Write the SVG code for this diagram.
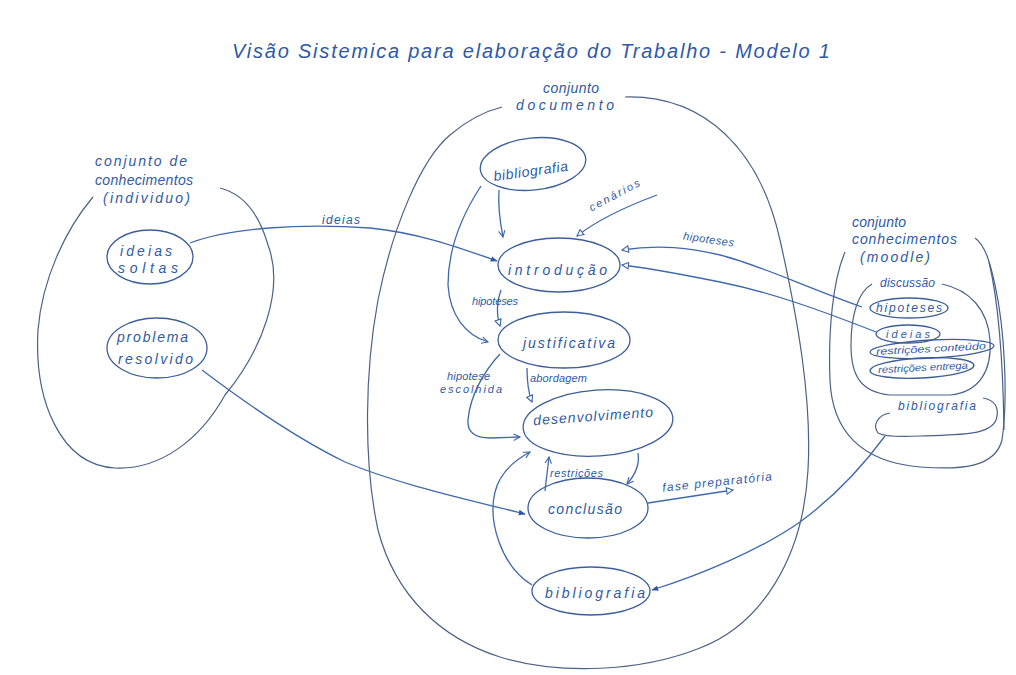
<svg xmlns="http://www.w3.org/2000/svg" width="1016" height="675" viewBox="0 0 1016 675">
<defs>
<style>
.hw{font-family:"Liberation Sans","DejaVu Sans",sans-serif;font-style:italic;fill:#2f5aa3;}
.t14{font-size:14px;}
.t12{font-size:12px;}
.t11{font-size:11px;}
.t10{font-size:10px;}
.node{fill:none;stroke:#3d5f98;stroke-width:1.3;}
.cont{fill:none;stroke:#4a6288;stroke-width:1.2;}
.edge{fill:none;stroke:#3f69ab;stroke-width:1.3;}
</style>
<marker id="af" viewBox="0 0 10 10" refX="9" refY="5" markerWidth="7" markerHeight="7" markerUnits="userSpaceOnUse" orient="auto">
<path d="M0,1 L10,5 L0,9 Z" fill="#2f5aa3"/>
</marker>
<marker id="ao" viewBox="0 0 10 10" refX="9" refY="5" markerWidth="8" markerHeight="8" markerUnits="userSpaceOnUse" orient="auto">
<path d="M1,1 L9,5 L1,9 Z" fill="#fff" stroke="#3f69ab" stroke-width="1.4"/>
</marker>
<marker id="av" viewBox="0 0 10 10" refX="9" refY="5" markerWidth="8" markerHeight="8" markerUnits="userSpaceOnUse" orient="auto">
<path d="M1,1 L9,5 L1,9" fill="none" stroke="#3f69ab" stroke-width="1.4"/>
</marker>
</defs>
<rect width="1016" height="675" fill="#ffffff"/>

<text id="title" class="hw" x="232" y="58" font-size="20" font-style="normal" textLength="598" lengthAdjust="spacing">Visão Sistemica para elaboração do Trabalho - Modelo 1</text>

<!-- containers -->
<g id="conjunto-individuo">
<path class="cont" d="M93,197 C65,230 42,280 38,330 C34,400 60,465 115,468 C160,470 200,440 225,395 C262,350 285,290 268,245 C258,210 240,193 220,188"/>
<text class="hw t14" x="95" y="166" textLength="92" lengthAdjust="spacing">conjunto de</text>
<text class="hw t14" x="95" y="185" textLength="98" lengthAdjust="spacing">conhecimentos</text>
<text class="hw t14" x="103" y="203" textLength="87" lengthAdjust="spacing">(individuo)</text>
</g>

<g id="conjunto-documento">
<path class="cont" d="M625,97 C705,95 760,150 780,240 C798,320 812,400 808,470 C803,560 760,625 700,648 C640,672 560,675 500,657 C440,638 395,595 378,530 C363,460 365,370 378,300 C392,230 420,160 450,135 C470,118 490,110 502,107"/>
<text class="hw t14" x="543" y="93" textLength="56" lengthAdjust="spacing">conjunto</text>
<text class="hw t14" x="516" y="110" textLength="98" lengthAdjust="spacing">documento</text>
</g>

<g id="conjunto-moodle">
<path class="cont" d="M845,252 C833,280 828,330 830,380 C832,430 860,462 920,467 C960,470 995,468 1002,440 C1008,400 1005,330 995,285 C990,262 985,245 975,238"/>
<path class="cont" d="M989,262 C998,300 1003,360 1004,430"/>
<text class="hw t14" x="852" y="227" textLength="54" lengthAdjust="spacing">conjunto</text>
<text class="hw t14" x="852" y="244" textLength="105" lengthAdjust="spacing">conhecimentos</text>
<text class="hw t14" x="860" y="262" textLength="70" lengthAdjust="spacing">(moodle)</text>
</g>

<g id="discussao">
<path class="cont" d="M872,284 C858,292 851,315 851,345 C851,375 860,392 890,395 L950,395 C980,392 992,370 990,340 C988,310 970,290 942,284"/>
<text class="hw t12" x="880" y="287" textLength="55" lengthAdjust="spacing">discussão</text>
</g>

<!-- nodes -->
<g id="ideias-soltas">
<ellipse class="node" cx="150" cy="257" rx="43" ry="27"/>
<text class="hw t14" x="120" y="256" textLength="52" lengthAdjust="spacing">ideias</text>
<text class="hw t14" x="118" y="273" textLength="60" lengthAdjust="spacing">soltas</text>
</g>

<g id="problema-resolvido">
<ellipse class="node" cx="157" cy="348" rx="50" ry="30"/>
<text class="hw t14" x="117" y="342" textLength="71" lengthAdjust="spacing">problema</text>
<text class="hw t14" x="118" y="364" textLength="75" lengthAdjust="spacing">resolvido</text>
</g>

<g id="bibliografia-topo">
<ellipse class="node" cx="533" cy="164" rx="53" ry="26" transform="rotate(-6 533 164)"/>
<text class="hw t14" x="493" y="176" textLength="75" lengthAdjust="spacing" transform="rotate(-8 530 170)">bibliografia</text>
</g>

<g id="introducao">
<ellipse class="node" cx="559" cy="265" rx="61" ry="27"/>
<text class="hw t14" x="508" y="275" textLength="99" lengthAdjust="spacing">introdução</text>
</g>

<g id="justificativa">
<ellipse class="node" cx="564" cy="340" rx="66" ry="28"/>
<text class="hw t14" x="523" y="348" textLength="92" lengthAdjust="spacing">justificativa</text>
</g>

<g id="desenvolvimento">
<ellipse class="node" cx="598" cy="423" rx="75" ry="33" transform="rotate(-4 598 423)"/>
<text class="hw t14" x="533" y="421" textLength="120" lengthAdjust="spacing" transform="rotate(-4 593 415)">desenvolvimento</text>
</g>

<g id="conclusao">
<ellipse class="node" cx="588" cy="508" rx="60" ry="30"/>
<text class="hw t14" x="548" y="514" textLength="74" lengthAdjust="spacing">conclusão</text>
</g>

<g id="bibliografia-base">
<ellipse class="node" cx="591" cy="591" rx="59" ry="24"/>
<text class="hw t14" x="545" y="598" textLength="100" lengthAdjust="spacing">bibliografia</text>
</g>

<g id="hipoteses-moodle">
<ellipse class="node" cx="909" cy="308" rx="39" ry="10"/>
<text class="hw t12" x="876" y="312" textLength="66" lengthAdjust="spacing">hipoteses</text>
</g>

<g id="ideias-moodle">
<ellipse class="node" cx="908" cy="334" rx="32" ry="9"/>
<text class="hw t11" x="886" y="338" textLength="44" lengthAdjust="spacing">ideias</text>
</g>

<g id="restricoes-conteudo">
<ellipse class="node" cx="932" cy="349" rx="62" ry="9" transform="rotate(-3 932 349)"/>
<text class="hw t10" x="876" y="352" textLength="110" lengthAdjust="spacingAndGlyphs" transform="rotate(-3 932 349)">restrições conteúdo</text>
</g>

<g id="restricoes-entrega">
<ellipse class="node" cx="922" cy="368" rx="52" ry="10" transform="rotate(-3 922 368)"/>
<text class="hw t10" x="878" y="371" textLength="90" lengthAdjust="spacingAndGlyphs" transform="rotate(-3 922 368)">restrições entrega</text>
</g>

<g id="bibliografia-moodle">
<path class="cont" d="M890,413 C878,415 872,425 878,433 C885,437 900,437 920,436 C960,435 990,435 996,420 C1000,408 995,400 983,398"/>
<text class="hw t12" x="898" y="410" textLength="78" lengthAdjust="spacing">bibliografia</text>
</g>

<!-- connectors -->
<g id="connectors">
<path class="edge" d="M190,243 C230,228 300,223 370,228 C420,233 460,248 497,261" marker-end="url(#af)"/>
<path class="edge" d="M202,370 C235,395 290,435 345,462 C400,485 470,500 525,514" marker-end="url(#af)"/>
<path class="edge" d="M499,190 C498,205 500,222 503,237" marker-end="url(#av)"/>
<path class="edge" d="M481,186 C462,215 448,250 448,285 C450,315 465,335 488,342" marker-end="url(#av)"/>
<path class="edge" d="M657,195 C630,205 600,218 577,236" marker-end="url(#ao)"/>
<path class="edge" d="M862,307 C800,285 760,265 720,255 C690,248 660,244 622,250" marker-end="url(#ao)"/>
<path class="edge" d="M876,332 C820,310 770,292 720,282 C680,274 650,268 622,265" marker-end="url(#ao)"/>
<path class="edge" d="M501,290 C497,300 496,314 500,326" marker-end="url(#ao)"/>
<path class="edge" d="M500,354 C485,370 470,395 468,420 C467,432 475,438 490,438 L520,437" marker-end="url(#av)"/>
<path class="edge" d="M527,368 C527,380 528,392 532,402" marker-end="url(#ao)"/>
<path class="edge" d="M638,453 C640,465 635,475 627,484" marker-end="url(#av)"/>
<path class="edge" d="M545,491 L549,457" marker-end="url(#av)"/>
<path class="edge" d="M532,585 C500,565 488,520 495,492 C500,472 515,460 530,452" marker-end="url(#av)"/>
<path class="edge" d="M648,503 L733,490" marker-end="url(#ao)"/>
<path class="edge" d="M885,436 C860,470 830,500 800,522 C760,550 700,575 652,590" marker-end="url(#af)"/>

<text class="hw t12" x="322" y="224" textLength="38" lengthAdjust="spacing">ideias</text>
<text class="hw t11" x="586" y="200" textLength="56" lengthAdjust="spacing" transform="rotate(-28 612 195)">cenários</text>
<text class="hw t11" x="683" y="243" textLength="51" lengthAdjust="spacing" transform="rotate(8 708 240)">hipoteses</text>
<text class="hw t11" x="472" y="305" textLength="46" lengthAdjust="spacing">hipoteses</text>
<text class="hw t11" x="447" y="380" textLength="43" lengthAdjust="spacing">hipotese</text>
<text class="hw t11" x="440" y="393" textLength="62" lengthAdjust="spacing">escolhida</text>
<text class="hw t11" x="530" y="382" textLength="57" lengthAdjust="spacing">abordagem</text>
<text class="hw t11" x="550" y="477" textLength="53" lengthAdjust="spacing">restrições</text>
<text class="hw t12" x="662" y="486" textLength="110" lengthAdjust="spacing" transform="rotate(-6 717 481)">fase preparatória</text>
</g>
</svg>
